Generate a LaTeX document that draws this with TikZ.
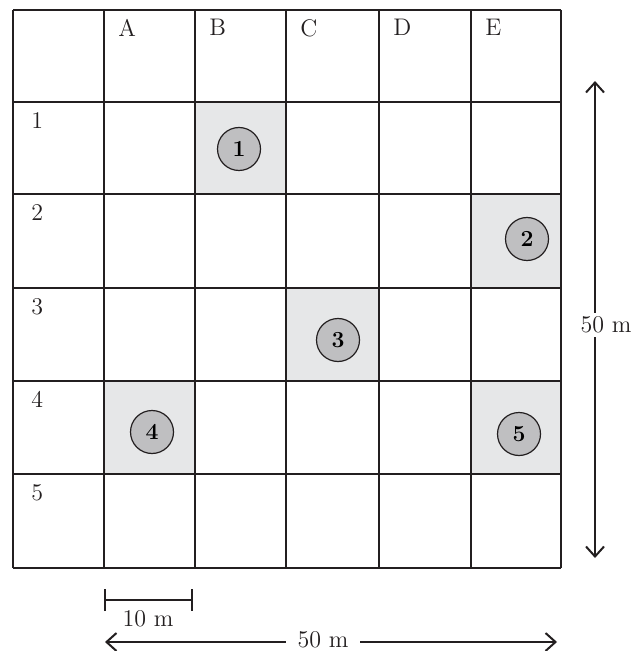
\documentclass[tikz,border=0pt]{standalone}
\usetikzlibrary{arrows.meta}
\definecolor{cellGrey}{HTML}{E6E7E8}
\definecolor{dotGrey}{HTML}{BFBFC1}
\definecolor{lineBlack}{HTML}{231F20}

\begin{document}
\begin{tikzpicture}[x=0.5pt, y=-0.5pt, font=\fontsize{12}{14}\selectfont,
  gridline/.style={draw=lineBlack, line width=0.7pt},
  plot/.style={fill=cellGrey},
  tree/.style={circle, draw=lineBlack, fill=dotGrey, line width=0.6pt, minimum size=21.5pt, inner sep=0pt, font=\fontsize{11.5}{13}\selectfont\bfseries},
  lab/.style={anchor=north west, inner sep=0pt, text=lineBlack},
  dim/.style={draw=lineBlack, line width=0.7pt, {Straight Barb[length=5pt,width=9pt,line width=1pt]}-{Straight Barb[length=5pt,width=9pt,line width=1pt]}},
  dimtext/.style={fill=white, inner sep=2pt, text=lineBlack}]
  \useasboundingbox (0,0) rectangle (632,651);

  % sampled plots
  \fill[plot] (195,102) rectangle (286,194);
  \fill[plot] (471,194) rectangle (561,288);
  \fill[plot] (286,288) rectangle (379,381);
  \fill[plot] (104,381) rectangle (195,474);
  \fill[plot] (471,381) rectangle (561,474);

  % grid
  \foreach \gx in {13,104,195,286,379,471,561} \draw[gridline] (\gx,10) -- (\gx,568);
  \foreach \gy in {10,102,194,288,381,474,568} \draw[gridline] (13,\gy) -- (561,\gy);

  % column and row labels
  \foreach \cl/\gx in {A/104,B/195,C/286,D/379,E/471}
    \node[lab] (col\cl) at (\gx+14,19) {\cl};
  \foreach \rl/\gy in {1/102,2/194,3/288,4/381,5/474}
    \node[lab] (row\rl) at (31,\gy+10) {\rl};

  % trees
  \node[tree] (t1) at (239,149) {1};
  \node[tree] (t2) at (527,239) {2};
  \node[tree] (t3) at (338,340) {3};
  \node[tree] (t4) at (152,432) {4};
  \node[tree] (t5) at (519,434) {5};

  % scale bar
  \coordinate (sbl) at (104,600);
  \coordinate (sbr) at (193,600);
  \draw[draw=lineBlack, line width=0.9pt, {Bar[width=11pt]}-{Bar[width=11pt]}] (sbl) -- (sbr);
  \node[text=lineBlack] (sbtext) at (148,619) {10 m};

  % dimensions
  \coordinate (vtop) at (595,81);
  \coordinate (vbot) at (595,558);
  \draw[dim] (vtop) -- (vbot);
  \node[dimtext] (vtext) at (606,325) {50 m};
  \coordinate (hl) at (105,642);
  \coordinate (hr) at (557,642);
  \draw[dim] (hl) -- (hr);
  \node[dimtext, inner xsep=6pt] (htext) at (323,640) {50 m};
\end{tikzpicture}
\end{document}
